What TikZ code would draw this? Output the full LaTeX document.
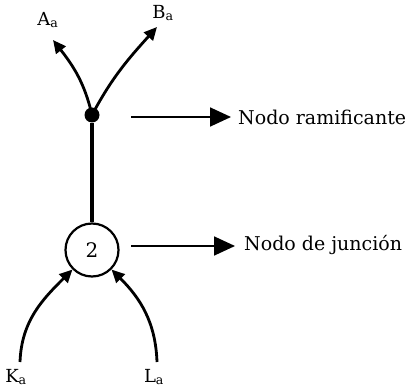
\documentclass[tikz,border=0pt]{standalone}
\usepackage{fontspec}
\setmainfont{DejaVu Serif}
\usetikzlibrary{arrows.meta}
\begin{document}
\begin{tikzpicture}[x=1pt,y=-1pt,
  flow/.style={line width=2.8pt,-{Triangle[length=13pt,width=12pt]}},
  pointer/.style={line width=1.8pt,-{Triangle[length=21pt,width=19pt]}},
  lbl/.style={inner sep=0pt,font=\fontsize{18}{20}\selectfont},
  note/.style={inner sep=0pt,anchor=west,font=\fontsize{19}{22}\selectfont}]
  \useasboundingbox (0,0) rectangle (410,390);
  % branching node and junction node
  \node[circle,fill=black,inner sep=0pt,minimum size=15pt] (D) at (92,115) {};
  \node[circle,draw,line width=2.2pt,minimum size=53pt,inner sep=0pt,
        font=\fontsize{20}{22}\selectfont] (J) at (92,250) {2};
  % end labels
  \node[lbl] (A) at (48,20) {A\textsubscript{a}};
  \node[lbl] (B) at (163,13) {B\textsubscript{a}};
  \node[lbl] (K) at (16,377) {K\textsubscript{a}};
  \node[lbl] (L) at (154,377) {L\textsubscript{a}};
  \coordinate (Atip) at (53,40);
  \coordinate (Btip) at (157,27);
  \coordinate (Kst) at (20,362);
  \coordinate (Lst) at (157,362);
  % descriptions
  \node[note] (Rt) at (238,117) {Nodo ramificante};
  \node[note] (Jt) at (244,245) {Nodo de junción};
  \coordinate (R0) at (131,117);
  \coordinate (J0) at (131,246);
  \coordinate (R1) at (231,117);
  \coordinate (J1) at (235,246);
  % connectors
  \draw[line width=3.5pt] (D) -- (J);
  \draw[flow] (D.center) to[out=103,in=-52] (Atip);
  \draw[flow] (D.center) to[out=62,in=228] (Btip);
  \draw[flow] (Kst) to[out=88,in=225] (J.225);
  \draw[flow] (Lst) to[out=92,in=-45] (J.-45);
  \draw[pointer] (R0) -- (R1);
  \draw[pointer] (J0) -- (J1);
\end{tikzpicture}
\end{document}
